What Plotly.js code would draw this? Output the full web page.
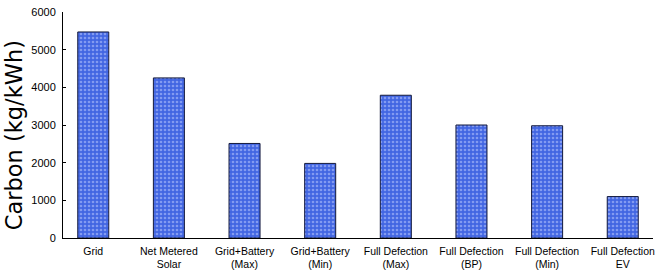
<!DOCTYPE html>
<html><head><meta charset="utf-8">
<script src="https://cdn.plot.ly/plotly-3.0.1.min.js"></script>
<style>html,body{margin:0;padding:0;background:#fff}</style>
</head><body>
<div id="chart" style="width:656px;height:272px"></div>
<script>
const categories = ["Grid", "Net Metered<br>Solar", "Grid+Battery<br>(Max)", "Grid+Battery<br>(Min)",
  "Full Defection<br>(Max)", "Full Defection<br>(BP)", "Full Defection<br>(Min)", "Full Defection<br>EV"];
const carbon = [5470, 4250, 2510, 1980, 3790, 3000, 2980, 1100];
const yTicks = [0, 1000, 2000, 3000, 4000, 5000, 6000];
const yTitle = "Carbon (kg/kWh)";

const xIdx = categories.map((c, i) => i);
const trace = {
  type: "bar",
  x: xIdx,
  y: carbon,
  width: 0.41,
  marker: {
    color: "#4266e2",
    line: {color: "#141a3c", width: 1},
    pattern: {shape: ".", fgcolor: "#c4d0ff", bgcolor: "#4266e2", size: 4, solidity: 0.35, fillmode: "overlay"}
  },
  hoverinfo: "none"
};
const layout = {
  width: 656, height: 272,
  margin: {l: 63, r: 3, t: 12, b: 34},
  paper_bgcolor: "#fff", plot_bgcolor: "#fff",
  showlegend: false,
  font: {family: "Liberation Sans, Arial, sans-serif", size: 11, color: "#000"},
  xaxis: {
    range: [-0.4, 7.4], tickvals: xIdx, ticktext: categories,
    showline: true, linecolor: "#000", linewidth: 1, ticks: "", showgrid: false, zeroline: false,
    tickfont: {size: 10.5}, ticklabelstandoff: 3, ticklabeloverflow: "allow", fixedrange: true
  },
  yaxis: {
    range: [0, 6000], tickvals: yTicks, ticktext: yTicks.map(String),
    showline: true, linecolor: "#000", linewidth: 1, ticks: "inside", ticklen: 3, tickcolor: "#000",
    showgrid: false, zeroline: false, tickfont: {size: 11}, ticklabelstandoff: 4, fixedrange: true
  },
  annotations: [{
    text: yTitle, textangle: -90, xref: "paper", yref: "paper",
    x: -0.083, y: 0.455, xanchor: "center", yanchor: "middle", showarrow: false,
    font: {family: "DejaVu Sans", size: 22.5, color: "#000"}
  }]
};
Plotly.newPlot("chart", [trace], layout, {displayModeBar: false, staticPlot: true});
</script>
</body></html>
